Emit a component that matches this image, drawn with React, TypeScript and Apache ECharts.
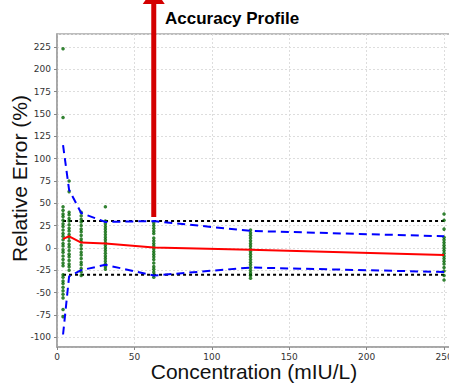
import React, { useEffect, useRef } from "react";
import * as echarts from "echarts";

const concentrations = [3.90625, 7.8125, 15.625, 31.25, 62.5, 125, 250];

const errorsC1 = [223, 146, 46, 42, 38, 35, 31, 27, 24, 20, 16, 13, 9, 5, 2, -2, -5, -9, -13, -17, -20, -30, -33, -37, -40, -44, -48, -52, -56, -69, -77];
const errorsC2 = [75, 63, 40, 37, 33, 30, 26, 22, 19, 15, 12, 8, 4, 1, -3, -7, -10, -14, -18, -21, -25];
const errorsC3 = [40, 36, 32, 29, 25, 21, 18, 14, 10, 7, 3, -1, -5, -8, -12, -16, -19, -23, -27, -31];
const errorsC4 = [46, 30, 27, 24, 21, 18, 15, 12, 9, 6, 3, 0, -3, -6, -9, -12, -15, -18, -21, -24];
const errorsC5 = [28, 25, 22, 19, 16, 11, 8, 5, 2, -1, -4, -7, -10, -13, -17, -21, -24, -27, -30, -33];
const errorsC6 = [20, 17, 14, 11, 8, 5, 2, -1, -4, -7, -10, -13, -16, -19, -22, -25, -28, -31, -34];
const errorsC7 = [38, 31, 21, 12, 9, 6, 3, 0, -3, -6, -9, -12, -15, -18, -22, -26, -31, -36];
const errorsByConc = [errorsC1, errorsC2, errorsC3, errorsC4, errorsC5, errorsC6, errorsC7];

const meanBias = [10, 13, 6, 5, 0.5, -2, -8];
const upperTolerance = [115, 65, 39, 29, 30, 19, 13];
const lowerTolerance = [-97, -32, -25, -19, -31, -22, -27];
const acceptanceLimit = 30;

const arrowConc = 62.5;
const arrowFrom = 34.5;
const arrowTo = 282;

const titleText = "Accuracy Profile";
const xName = "Concentration (mIU/L)";
const yName = "Relative Error (%)";

export default function App() {
  const ref = useRef<HTMLDivElement>(null);
  useEffect(() => {
    if (!ref.current) return;
    const chart = echarts.init(ref.current, null, { renderer: "svg" });
    const points: number[][] = [];
    errorsByConc.forEach((arr, i) => arr.forEach((v) => points.push([concentrations[i], v])));
    const pair = (vals: number[]) => vals.map((v, i) => [concentrations[i], v]);
    const first = concentrations[0];
    const last = concentrations[concentrations.length - 1];
    const tickFont = { fontFamily: "DejaVu Sans", fontSize: 9, color: "#333" };
    chart.setOption({
      animation: false,
      grid: {
        left: 57,
        top: 34,
        right: -2,
        bottom: 36,
        outerBoundsMode: "none",
        containLabel: false,
        show: true,
        borderColor: "#a8a8a8",
        borderWidth: 1.5,
        backgroundColor: "transparent",
      },
      xAxis: {
        type: "value",
        min: 0,
        max: 254.5,
        minInterval: 50,
        maxInterval: 50,
        axisLine: { show: true, onZero: false, lineStyle: { color: "#a0a0a0", width: 1.5 } },
        axisTick: { show: true, length: 3, lineStyle: { color: "#888" } },
        axisLabel: { ...tickFont, margin: 5, showMaxLabel: false },
        splitLine: { show: true, lineStyle: { color: "#ddd", type: [2, 2], width: 1 } },
      },
      yAxis: {
        type: "value",
        min: -111,
        max: 239.5,
        minInterval: 25,
        maxInterval: 25,
        axisLine: { show: true, onZero: false, lineStyle: { color: "#a0a0a0", width: 1.5 } },
        axisTick: { show: true, length: 3, lineStyle: { color: "#888" } },
        axisLabel: { ...tickFont, margin: 6, showMinLabel: false, showMaxLabel: false },
        splitLine: { show: true, lineStyle: { color: "#ddd", type: [2, 2], width: 1 } },
      },
      graphic: [
        {
          type: "text",
          left: 165,
          top: 10,
          style: {
            text: titleText,
            font: "bold 17px 'Liberation Sans'",
            fill: "#000",
          },
        },
        {
          type: "text",
          x: 19.5,
          y: 178.5,
          rotation: Math.PI / 2,
          style: {
            text: yName,
            font: "21px 'Liberation Sans'",
            fill: "#111",
            align: "center",
            verticalAlign: "middle",
          },
        },
        {
          type: "text",
          x: 254,
          y: 371.5,
          style: {
            text: xName,
            font: "21px 'Liberation Sans'",
            fill: "#111",
            align: "center",
            verticalAlign: "middle",
          },
        },
      ],
      series: [
        {
          type: "line",
          data: [[first, acceptanceLimit], [last, acceptanceLimit]],
          symbol: "none",
          lineStyle: { color: "#000", width: 2, type: [3, 3] },
          z: 2,
        },
        {
          type: "line",
          data: [[first, -acceptanceLimit], [last, -acceptanceLimit]],
          symbol: "none",
          lineStyle: { color: "#000", width: 2, type: [3, 3] },
          z: 2,
        },
        {
          type: "scatter",
          data: points,
          symbolSize: 3.5,
          itemStyle: { color: "#006400" },
          z: 3,
        },
        {
          type: "line",
          data: pair(upperTolerance),
          symbol: "none",
          lineStyle: { color: "#0000ff", width: 2, type: [8, 5] },
          z: 4,
        },
        {
          type: "line",
          data: pair(lowerTolerance),
          symbol: "none",
          lineStyle: { color: "#0000ff", width: 2, type: [8, 5] },
          z: 4,
        },
        {
          type: "line",
          data: pair(meanBias),
          symbol: "none",
          lineStyle: { color: "#ff0000", width: 2 },
          z: 5,
        },
        {
          type: "line",
          clip: false,
          showSymbol: true,
          showAllSymbol: true,
          data: [
            { value: [arrowConc, arrowFrom], symbol: "none" },
            { value: [arrowConc, arrowTo], symbol: "triangle", symbolSize: [22, 16] },
          ],
          lineStyle: { color: "#d40000", width: 5 },
          itemStyle: { color: "#d40000", borderWidth: 0 },
          z: 6,
        },
      ],
    });
    return () => chart.dispose();
  }, []);
  return (
    <div
      ref={ref}
      style={{ position: "absolute", left: 0, top: 0, width: 449, height: 383, background: "#fff" }}
    />
  );
}
